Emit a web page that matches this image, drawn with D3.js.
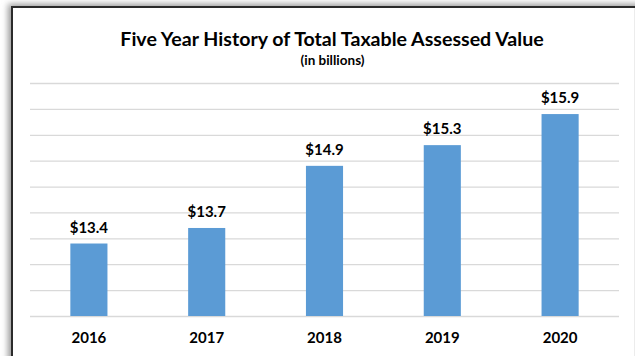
<!DOCTYPE html>
<html>
<head>
<meta charset="utf-8">
<script src="https://cdn.jsdelivr.net/npm/d3@7"></script>
<style>
  html, body { margin: 0; padding: 0; background: #fff; }
  svg { display: block; }
  text { font-family: Lato, "Open Sans", sans-serif; font-weight: bold; fill: #000; }
</style>
</head>
<body>
<svg id="chart" width="635" height="356"></svg>
<script>
// Total taxable assessed value, in billions of dollars
const years = ["2016", "2017", "2018", "2019", "2020"];
const values = [13.4, 13.7, 14.9, 15.3, 15.9];
const valueLabels = ["$13.4", "$13.7", "$14.9", "$15.3", "$15.9"];
const yDomain = [12, 16.5];
const yTicks = [12, 12.5, 13, 13.5, 14, 14.5, 15, 15.5, 16, 16.5];

const titleText = "Five Year History of Total Taxable Assessed Value";
const subtitleText = "(in billions)";

const svg = d3.select("#chart");
const W = 635, H = 356;

// Frame with a soft shadow on its outer edge
const defs = svg.append("defs");
const blur = defs.append("filter").attr("id", "shadow")
  .attr("x", "-10%").attr("y", "-10%").attr("width", "120%").attr("height", "120%");
blur.append("feGaussianBlur").attr("stdDeviation", 3);

svg.append("rect")
  .attr("x", 8).attr("y", 4).attr("width", 660).attr("height", 400)
  .attr("fill", "#9a9a9a").attr("filter", "url(#shadow)");
svg.append("rect")
  .attr("x", 12).attr("y", 7).attr("width", 660).attr("height", 400)
  .attr("fill", "#fff").attr("stroke", "#2b2b2b").attr("stroke-width", 2);
svg.append("line")
  .attr("x1", 634.5).attr("x2", 634.5).attr("y1", 8).attr("y2", H)
  .attr("stroke", "#ececec").attr("stroke-width", 1);

// Plot area
const plot = { left: 30, right: 619, top: 83, bottom: 316 };

const x = d3.scaleBand().domain(years).range([plot.left, plot.right]).padding(0);
const barFrac = 0.315;
const barW = x.bandwidth() * barFrac;

const y = d3.scaleLinear().domain(yDomain).range([plot.bottom, plot.top]);

// Horizontal gridlines
const yAxis = d3.axisLeft(y).tickValues(yTicks).tickSize(-(plot.right - plot.left)).tickFormat("");
const gy = svg.append("g").attr("transform", `translate(${plot.left},0)`).call(yAxis);
gy.select(".domain").remove();
gy.selectAll(".tick line").attr("stroke", "#d9d9d9").attr("stroke-width", 1.3);

// Bars
svg.append("g").selectAll("rect")
  .data(values)
  .join("rect")
  .attr("x", (d, i) => x(years[i]) + (x.bandwidth() - barW) / 2)
  .attr("y", d => y(d))
  .attr("width", barW)
  .attr("height", d => y(yDomain[0]) - y(d))
  .attr("fill", "#5b9bd5");

// Value labels
svg.append("g").selectAll("text")
  .data(values)
  .join("text")
  .attr("x", (d, i) => x(years[i]) + x.bandwidth() / 2)
  .attr("y", d => y(d) - 11)
  .attr("text-anchor", "middle")
  .attr("font-size", 15)
  .text((d, i) => valueLabels[i]);

// Category axis labels
const xAxis = d3.axisBottom(x).tickSize(0).tickPadding(0);
const gx = svg.append("g").attr("transform", `translate(0,${plot.bottom})`).call(xAxis);
gx.select(".domain").remove();
gx.selectAll(".tick text")
  .attr("font-size", 15)
  .attr("font-family", "Lato, 'Open Sans', sans-serif")
  .attr("font-weight", "bold")
  .attr("fill", "#000")
  .attr("dy", null)
  .attr("y", 27);

// Titles
svg.append("text")
  .attr("x", 332).attr("y", 46)
  .attr("text-anchor", "middle")
  .attr("font-size", 19.6)
  .text(titleText);
svg.append("text")
  .attr("x", 332.5).attr("y", 65)
  .attr("text-anchor", "middle")
  .attr("font-size", 13.5)
  .text(subtitleText);
</script>
</body>
</html>
